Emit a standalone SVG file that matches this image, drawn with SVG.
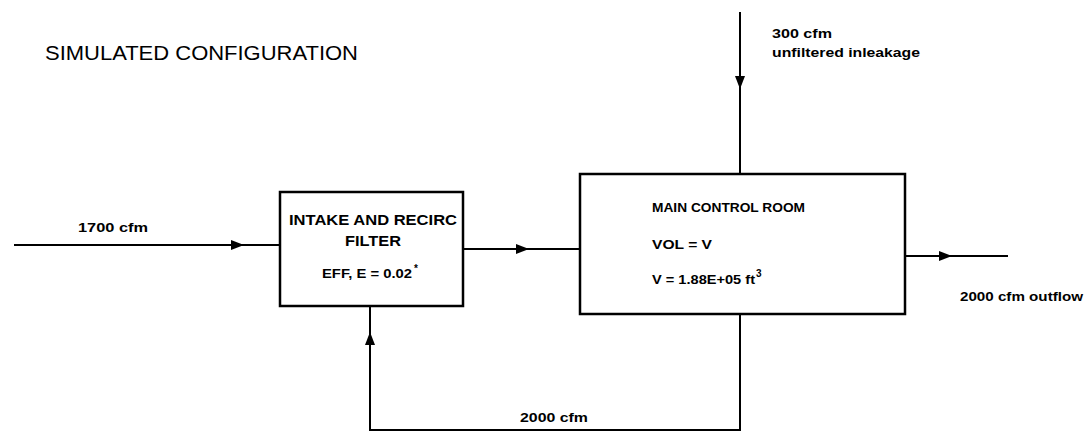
<svg xmlns="http://www.w3.org/2000/svg" width="1091" height="435" viewBox="0 0 1091 435">
<style>
.box{fill:none;stroke:#000;stroke-width:2.5}
.ln{fill:none;stroke:#000;stroke-width:2}
.t{font-family:"Liberation Sans",Arial,sans-serif;font-weight:bold;fill:#000}
.title{font-family:"Liberation Sans",Arial,sans-serif;fill:#000}
</style>
<defs>
<path id="ah" d="M6,0 L-7,-5 L-7,5 Z" fill="#000"/>
</defs>
<rect width="1091" height="435" fill="#fff"/>
<text class="title" x="45" y="60" font-size="21" textLength="313" lengthAdjust="spacingAndGlyphs">SIMULATED CONFIGURATION</text>
<g id="connectors">
<path class="ln" d="M14,245 L280,245"/>
<use href="#ah" transform="translate(238,245)"/>
<path class="ln" d="M463,249 L580,249"/>
<use href="#ah" transform="translate(523,249)"/>
<path class="ln" d="M740,12 L740,174"/>
<use href="#ah" transform="translate(740,83) rotate(90)"/>
<path class="ln" d="M905,256 L1008,256"/>
<use href="#ah" transform="translate(946,256)"/>
<path class="ln" d="M740,314 L740,430 L370,430 L370,306"/>
<use href="#ah" transform="translate(370,338) rotate(-90)"/>
<text class="t" x="78" y="232" font-size="13" textLength="70" lengthAdjust="spacingAndGlyphs">1700 cfm</text>
<text class="t" x="772" y="38" font-size="12" textLength="60" lengthAdjust="spacingAndGlyphs">300 cfm</text>
<text class="t" x="772" y="57" font-size="12" textLength="148" lengthAdjust="spacingAndGlyphs">unfiltered inleakage</text>
<text class="t" x="520" y="422" font-size="13" textLength="68" lengthAdjust="spacingAndGlyphs">2000 cfm</text>
<text class="t" x="960" y="301" font-size="13" textLength="123" lengthAdjust="spacingAndGlyphs">2000 cfm outflow</text>
</g>
<g id="filter">
<rect class="box" x="280" y="192" width="183" height="114"/>
<text class="t" x="373" y="225" font-size="15" text-anchor="middle" textLength="168" lengthAdjust="spacingAndGlyphs">INTAKE AND RECIRC</text>
<text class="t" x="373" y="246" font-size="15" text-anchor="middle" textLength="56" lengthAdjust="spacingAndGlyphs">FILTER</text>
<text class="t" x="322" y="278" font-size="13" textLength="90" lengthAdjust="spacingAndGlyphs">EFF, E = 0.02</text>
<text class="t" x="414" y="272" font-size="10">*</text>
</g>
<g id="main-control-room">
<rect class="box" x="580" y="174" width="325" height="140"/>
<text class="t" x="652" y="212" font-size="12" textLength="153" lengthAdjust="spacingAndGlyphs">MAIN CONTROL ROOM</text>
<text class="t" x="652" y="249" font-size="12" textLength="60" lengthAdjust="spacingAndGlyphs">VOL  = V</text>
<text class="t" x="652" y="284" font-size="12" textLength="103" lengthAdjust="spacingAndGlyphs">V = 1.88E+05 ft</text>
<text class="t" x="756" y="277" font-size="10">3</text>
</g>
</svg>
